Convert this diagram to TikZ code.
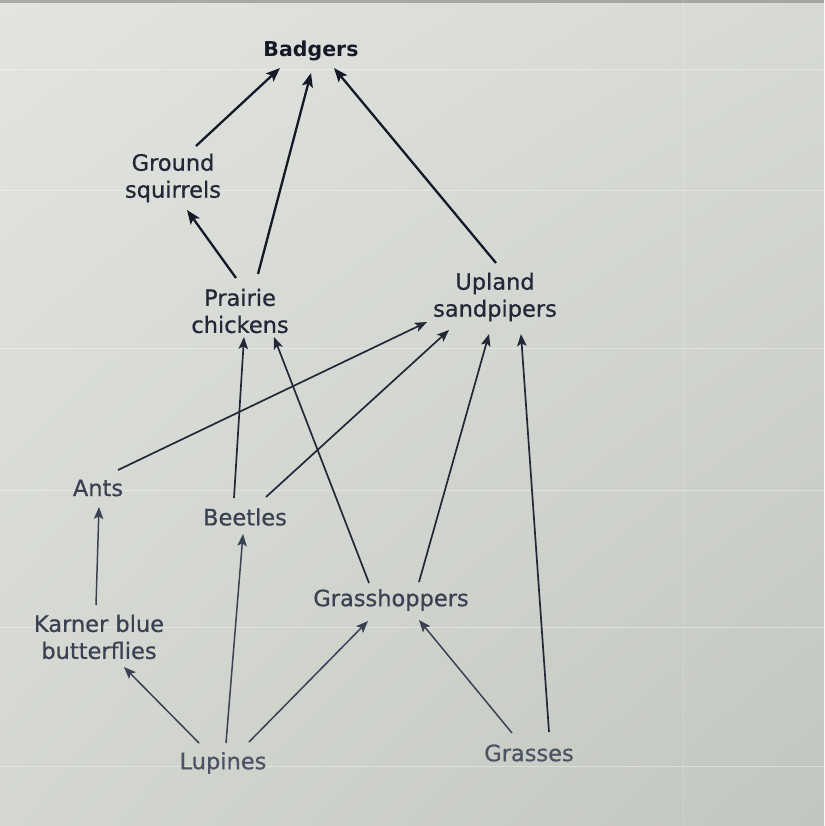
\documentclass[tikz,border=0pt]{standalone}
\usepackage{fontspec}
\setmainfont{DejaVu Sans}[FakeBold=0.7]
\newfontfamily\badfont{DejaVu Sans Bold}
\usetikzlibrary{arrows.meta,calc,shadings}
\definecolor{bgTL}{HTML}{E2E4DF}
\definecolor{bgTR}{HTML}{D7DAD4}
\definecolor{bgBL}{HTML}{D3D7D0}
\definecolor{bgBR}{HTML}{C1C6BF}
\definecolor{inkA}{HTML}{151927}
\definecolor{inkB}{HTML}{232838}
\definecolor{inkC}{HTML}{3A4152}
\definecolor{inkD}{HTML}{4C5364}
\tikzset{
  lbl/.style={inner sep=0pt, align=center, font=\fontsize{22.5}{27}\selectfont},
  toplbl/.style={lbl, text=inkB},
  midlbl/.style={lbl, text=inkC},
  lowlbl/.style={lbl, text=inkD},
  topedge/.style={draw=inkA, line width=2.3pt, -{Stealth[length=14pt,width=11pt,inset=3pt]}},
  midedge/.style={draw=inkB, line width=1.7pt, -{Stealth[length=12pt,width=9.5pt,inset=2.5pt]}},
  lowedge/.style={draw=inkC, line width=1.5pt, -{Stealth[length=12pt,width=9.5pt,inset=2.5pt]}},
  scanline/.style={draw=white, opacity=0.35, line width=0.8pt}
}
\begin{document}
\begin{tikzpicture}[x=1pt,y=-1pt]
\useasboundingbox (0,0) rectangle (824,826);
\shade[upper left=bgTL, upper right=bgTR, lower left=bgBL, lower right=bgBR] (0,0) rectangle (824,826);
\fill[black!55, opacity=0.5] (0,0) rectangle (824,3);
% faint screen lines
\foreach \yy in {69,190,348,490,627,766} {\draw[scanline] (0,\yy) -- (824,\yy);}
\draw[scanline, opacity=0.2] (683,0) -- (683,826);

% nodes
\node[lbl, text=inkA, font=\fontsize{20.5}{24}\badfont] (bad) at (311,51) {Badgers};
\node[toplbl] (gsq) at (173,178) {Ground\\squirrels};
\node[toplbl] (pch) at (240,311) {Prairie\\chickens};
\node[toplbl] (ups) at (495,297) {Upland\\sandpipers};
\node[midlbl] (ant) at (98,488) {Ants};
\node[midlbl] (bee) at (245,517) {Beetles};
\node[midlbl] (grh) at (391,600) {Grasshoppers};
\node[midlbl] (kbb) at (99,637) {Karner blue\\butterflies};
\node[lowlbl] (lup) at (223,763) {Lupines};
\node[lowlbl] (gra) at (529,753) {Grasses};

% top connectors
\draw[topedge] ($(gsq)+(23,-32)$) -- ($(bad)+(-31,17)$);
\draw[topedge] ($(pch)+(18,-37)$) -- ($(bad)+(0,22)$);
\draw[topedge] ($(ups)+(1,-34)$) -- ($(bad)+(23,17)$);
\draw[topedge] ($(pch)+(-4,-33)$) -- ($(gsq)+(14,32)$);

% middle connectors
\draw[midedge] ($(ant)+(20,-18)$) -- ($(ups)+(-68,25)$);
\draw[midedge] ($(bee)+(21,-20)$) -- ($(ups)+(-46,33)$);
\draw[midedge] ($(grh)+(28,-18)$) -- ($(ups)+(-6,37)$);
\draw[midedge] ($(gra)+(20,-21)$) -- ($(ups)+(26,37)$);
\draw[midedge] ($(bee)+(-11,-19)$) -- ($(pch)+(4,26)$);
\draw[midedge] ($(grh)+(-22,-17)$) -- ($(pch)+(34,26)$);

% lower connectors
\draw[lowedge] ($(kbb)+(-3,-32)$) -- ($(ant)+(1,19)$);
\draw[lowedge] ($(lup)+(-24,-20)$) -- ($(kbb)+(25,30)$);
\draw[lowedge] ($(lup)+(3,-20)$) -- ($(bee)+(-2,17)$);
\draw[lowedge] ($(lup)+(26,-21)$) -- ($(grh)+(-23,21)$);
\draw[lowedge] ($(gra)+(-17,-20)$) -- ($(grh)+(28,20)$);
\end{tikzpicture}
\end{document}
